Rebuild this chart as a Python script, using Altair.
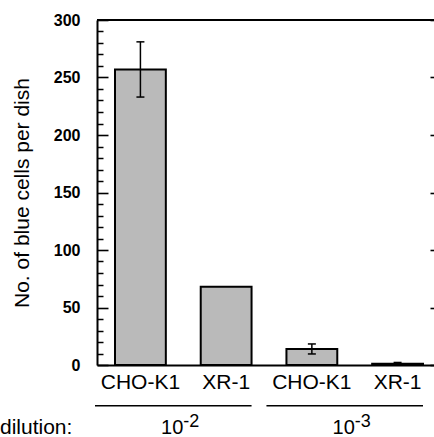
import altair as alt
import pandas as pd

# ---- data ----
cells = ["CHO-K1", "XR-1", "CHO-K1", "XR-1"]
dil_exp = ["-2", "-2", "-3", "-3"]
values = [257, 68, 14, 1]
err_low = [233, None, 9.6, 0.6]
err_high = [281, None, 18.3, 2.2]

y_major = [0, 50, 100, 150, 200, 250, 300]
y_minor = [10, 20, 30, 40, 60, 70, 80, 90, 110, 120, 130, 140, 160, 170, 180, 190,
           210, 220, 230, 240, 260, 270, 280, 290]

groups = ["-2", "-3"]

keys = [f"{e}|{c}" for e, c in zip(dil_exp, cells)]
df = pd.DataFrame({"key": keys, "cell": cells, "exp": dil_exp, "value": values,
                   "lo": err_low, "hi": err_high})
err_df = df.dropna(subset=["lo"])

grp_df = pd.DataFrame({
    "exp": groups,
    "start": [keys[i] for i in range(len(keys)) if i == 0 or dil_exp[i] != dil_exp[i - 1]],
    "end": [keys[i] for i in range(len(keys)) if i == len(keys) - 1 or dil_exp[i] != dil_exp[i + 1]],
    "base": ["10"] * len(groups),
})

FONT = "Liberation Sans, Arial, Helvetica, sans-serif"
W, H = 337, 345

xscale = alt.Scale(domain=keys, range=[0, 344], paddingInner=0.407, paddingOuter=0.21)
yscale = alt.Scale(domain=[0, 300], nice=False)

x_enc = alt.X("key:N", scale=xscale, sort=keys,
              axis=alt.Axis(title=None, labelExpr="split(datum.label, '|')[1]",
                            labelFont=FONT, labelFontSize=21, labelColor="black",
                            labelPadding=6, ticks=False, tickSize=0, labelAngle=0,
                            domainColor="black", domainWidth=2))
y_enc = alt.Y("value:Q", scale=yscale,
              axis=alt.Axis(title="No. of blue cells per dish", values=y_major,
                            orient="left",
                            titleFont=FONT, titleFontSize=21, titleFontWeight="normal",
                            titleColor="black", titlePadding=21,
                            labelFont=FONT, labelFontSize=16, labelFontWeight="bold",
                            labelColor="black", labelPadding=17,
                            ticks=False, tickSize=0, grid=False,
                            domainColor="black", domainWidth=2))

bars = alt.Chart(df).mark_bar(fill="#bababa", stroke="black", strokeWidth=2).encode(
    x=x_enc, y=y_enc)

err_rule = alt.Chart(err_df).mark_rule(color="black", strokeWidth=1.5).encode(
    x=alt.X("key:N", scale=xscale, sort=keys),
    y=alt.Y("lo:Q", scale=yscale, axis=None), y2="hi:Q")
cap_hi = alt.Chart(err_df).mark_tick(color="black", orient="horizontal", size=8,
                                     thickness=1.5, opacity=1).encode(
    x=alt.X("key:N", scale=xscale, sort=keys), y=alt.Y("hi:Q", scale=yscale, axis=None))
cap_lo = alt.Chart(err_df).mark_tick(color="black", orient="horizontal", size=8,
                                     thickness=1.5, opacity=1).encode(
    x=alt.X("key:N", scale=xscale, sort=keys), y=alt.Y("lo:Q", scale=yscale, axis=None))

major_df = pd.DataFrame({"v": y_major})
minor_df = pd.DataFrame({"v": y_minor})


def tick_axis(data, vals, orient, length, width, offset=0):
    return alt.Chart(data).mark_rule(opacity=0).encode(
        y=alt.Y("v:Q", scale=yscale,
                axis=alt.Axis(orient=orient, values=vals, title=None, labels=False,
                              domain=False, grid=False, ticks=True,
                              tickSize={"expr": f"-{length}"}, tickColor="black",
                              tickWidth=width, offset=offset)),
        x=alt.value(0), x2=alt.value(1))


lmaj = tick_axis(major_df, y_major, "left", 11, 1.6)
lmin = tick_axis(minor_df, y_minor, "left", 6, 1.5)
rmaj = tick_axis(major_df, y_major, "right", 11, 1.6, 7)
rmin = tick_axis(minor_df, y_minor, "right", 6, 1.3, 7)

top_line = alt.Chart(pd.DataFrame({"a": [0]})).mark_rule(color="black", strokeWidth=2).encode(
    y=alt.value(0), x=alt.value(0), x2=alt.value(W))

grp_lines = alt.Chart(grp_df).mark_rule(color="black", strokeWidth=1.5, xOffset=-20).encode(
    x=alt.X("start:N", scale=xscale, sort=keys, bandPosition=0),
    x2=alt.X2("end:N", bandPosition=1),
    y=alt.value(385.7))

grp_base = alt.Chart(grp_df).mark_text(font=FONT, fontSize=20, align="right",
                                       baseline="alphabetic", color="black", dx=17.5).encode(
    x=alt.X("start:N", scale=xscale, sort=keys, bandPosition=1),
    y=alt.value(414), text="base:N")
grp_exp = alt.Chart(grp_df).mark_text(font=FONT, fontSize=18, align="left",
                                      baseline="alphabetic", color="black", dx=17.5).encode(
    x=alt.X("start:N", scale=xscale, sort=keys, bandPosition=1),
    y=alt.value(407), text="exp:N")

dil = alt.Chart(pd.DataFrame({"t": ["dilution:"]})).mark_text(
    font=FONT, fontSize=21, align="left", baseline="alphabetic", color="black").encode(
    x=alt.value(-97), y=alt.value(414), text="t:N")

chart = alt.layer(bars, err_rule, cap_hi, cap_lo, lmaj, lmin, rmaj, rmin, top_line,
                  grp_lines, grp_base, grp_exp, dil).resolve_axis(y="independent").properties(
    width=W, height=H,
    autosize=alt.AutoSizeParams(type="none"),
    padding={"left": 97, "top": 20, "right": 0, "bottom": 72},
    background="white",
).configure_view(stroke=None)

chart.save("out.html", embed_options={"renderer": "svg", "actions": False})
